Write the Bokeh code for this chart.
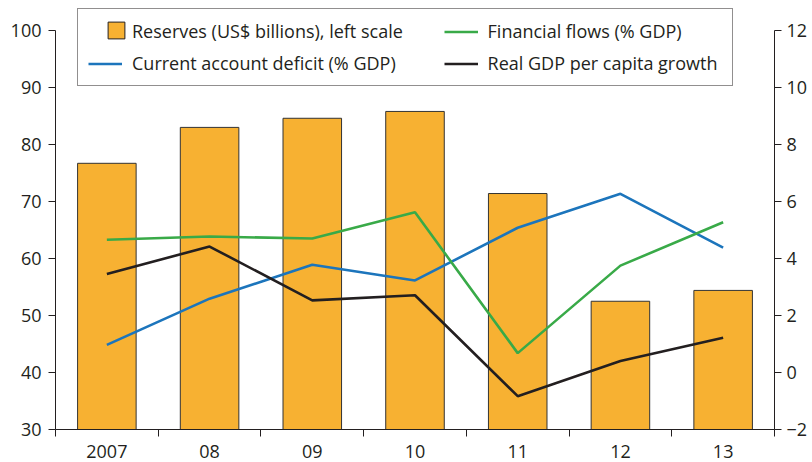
from bokeh.plotting import figure
from bokeh.models import (Range1d, LinearAxis, FixedTicker, Legend, LegendItem)
from bokeh.embed import file_html
from bokeh.resources import INLINE
import numpy as np

# ---- data ----
years = ["2007", "08", "09", "10", "11", "12", "13"]
reserves = [76.7, 83.0, 84.6, 85.8, 71.4, 52.5, 54.4]          # US$ billions, left scale
current_account = [0.97, 2.59, 3.78, 3.23, 5.08, 6.27, 4.38]  # % GDP, right scale
financial_flows = [4.66, 4.77, 4.70, 5.62, 0.68, 3.75, 5.27]  # % GDP, right scale
gdp_growth = [3.46, 4.42, 2.53, 2.71, -0.83, 0.40, 1.22]      # %, right scale
left_ticks = [30, 40, 50, 60, 70, 80, 90, 100]
right_ticks = [-2, 0, 2, 4, 6, 8, 10, 12]

FONT = "Open Sans"
FS = "18px"
TXT = "#231F20"
ORANGE = "#F7B132"

x = list(np.arange(len(years)) + 0.5)

# frame extends 23px above the "100" line so that the legend box is not clipped
extra = 23 / 399
p = figure(width=812, height=462, output_backend="svg", toolbar_location=None,
           x_range=Range1d(0, len(years)),
           y_range=Range1d(left_ticks[0], left_ticks[-1] + (left_ticks[-1] - left_ticks[0]) * extra),
           min_border_left=55, min_border_right=38, min_border_top=7,
           min_border_bottom=33, x_axis_location=None, y_axis_location=None)
p.extra_y_ranges = {"right": Range1d(right_ticks[0],
                                     right_ticks[-1] + (right_ticks[-1] - right_ticks[0]) * extra)}
p.outline_line_color = None
p.xgrid.visible = False
p.ygrid.visible = False
p.background_fill_color = "white"
p.border_fill_color = "white"

bars = p.vbar(x=x, top=reserves, bottom=left_ticks[0], width=0.57, fill_color=ORANGE,
              line_color="#333333", line_width=1)
l1 = p.line(x, current_account, y_range_name="right", line_color="#1C75BC", line_width=2.6)
l2 = p.line(x, financial_flows, y_range_name="right", line_color="#39AA48", line_width=2.6)
l3 = p.line(x, gdp_growth, y_range_name="right", line_color="#231F20", line_width=2.6)

# legend-only square marker renderers (size 0 on the plot, legend swatch is sized by the legend)
sq_hidden = p.scatter(x=x, y=reserves, size=0, marker="square", fill_alpha=0, line_alpha=0)
sq = p.scatter(x=x, y=reserves, size=0, marker="square", fill_color=ORANGE,
               line_color="#231F20", line_width=1)

def style(ax):
    ax.axis_line_color = TXT
    ax.axis_line_width = 1
    ax.major_tick_line_color = TXT
    ax.minor_tick_line_color = TXT
    ax.major_label_text_font = FONT
    ax.major_label_text_font_size = FS
    ax.major_label_text_color = TXT

left = LinearAxis(ticker=FixedTicker(ticks=left_ticks, minor_ticks=[]),
                  bounds=(left_ticks[0], left_ticks[-1]))
style(left)
left.major_tick_out = 7
left.major_tick_in = 0
left.major_label_standoff = 7
p.add_layout(left, "left")

right = LinearAxis(y_range_name="right", ticker=FixedTicker(ticks=right_ticks, minor_ticks=[]),
                   bounds=(right_ticks[0], right_ticks[-1]))
style(right)
right.major_tick_out = 7
right.major_tick_in = 0
right.major_label_standoff = 5
right.major_label_overrides = {t: (str(t).replace("-", "\u2212")) for t in right_ticks}
p.add_layout(right, "right")

bottom = LinearAxis(ticker=FixedTicker(ticks=x, minor_ticks=list(range(len(years) + 1))))
style(bottom)
bottom.major_tick_out = 0
bottom.major_tick_in = 0
bottom.minor_tick_out = 7
bottom.minor_tick_in = 0
bottom.major_label_standoff = 8
bottom.major_label_overrides = {xi: y for xi, y in zip(x, years)}
p.add_layout(bottom, "below")

pad = "\u00a0" * 7
legend = Legend(items=[
    LegendItem(label="Reserves (US$ billions), left scale" + pad, renderers=[sq_hidden]),
    LegendItem(label="Current account deficit (% GDP)" + pad, renderers=[l1]),
    LegendItem(label="Financial flows (% GDP)\u00a0", renderers=[l2]),
    LegendItem(label="Real GDP per capita growth\u00a0", renderers=[l3]),
], location=(22, 343), orientation="vertical", nrows=2)
legend.label_text_font = FONT
legend.label_text_font_size = FS
legend.label_text_color = TXT
legend.border_line_color = "#231F20"
legend.border_line_width = 1
legend.background_fill_alpha = 0
legend.glyph_width = 34
legend.glyph_height = 15
legend.label_height = 20
legend.label_standoff = 10
legend.spacing = 8
legend.padding = 10
legend.margin = 0
p.add_layout(legend, "center")

# overlay legend that only draws the square swatch for the bars
swatch = Legend(items=[LegendItem(label="\u00a0", renderers=[sq])], location=(40, 378),
                glyph_width=42, glyph_height=42, padding=0, margin=0, label_standoff=0,
                border_line_color=None, background_fill_alpha=0,
                label_text_font_size="1px")
p.add_layout(swatch, "center")

open("out.html", "w").write(file_html(p, INLINE))
